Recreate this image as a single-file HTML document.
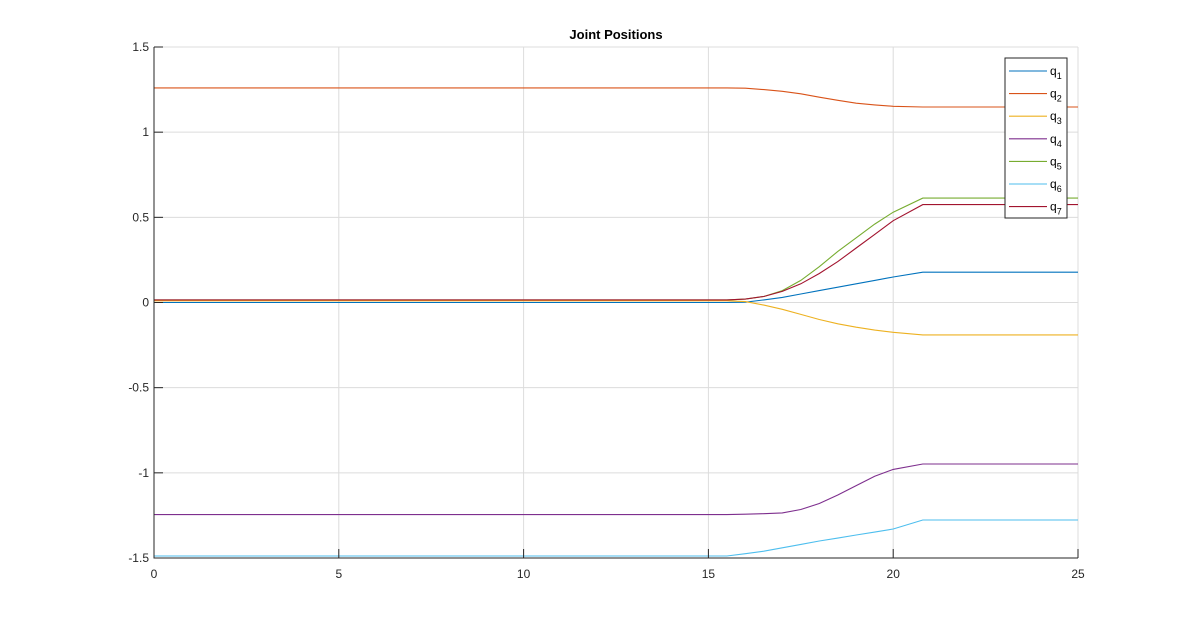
<!DOCTYPE html>
<html><head><meta charset="utf-8"><style>
body{margin:0;background:#fff;}
svg{display:block;font-family:"Liberation Sans",Arial,sans-serif;}
</style></head><body>
<svg id="chart" width="1192" height="628"></svg>
<script>
const times=[0,15,15.5,16,16.5,17,17.5,18,18.5,19,19.5,20,20.8,25];
const q1=[0,0,0,0.002,0.015,0.03,0.05,0.07,0.09,0.11,0.13,0.15,0.178,0.178];
const q2=[1.26,1.26,1.26,1.258,1.25,1.24,1.225,1.205,1.187,1.17,1.16,1.152,1.148,1.148];
const q3=[0.01,0.01,0.01,0.005,-0.015,-0.04,-0.07,-0.1,-0.125,-0.145,-0.162,-0.175,-0.19,-0.19];
const q4=[-1.245,-1.245,-1.245,-1.243,-1.24,-1.235,-1.215,-1.18,-1.13,-1.075,-1.02,-0.98,-0.948,-0.948];
const q5=[0.015,0.015,0.015,0.02,0.035,0.07,0.13,0.21,0.3,0.38,0.46,0.53,0.613,0.613];
const q6=[-1.488,-1.488,-1.488,-1.475,-1.46,-1.44,-1.42,-1.4,-1.383,-1.365,-1.348,-1.33,-1.277,-1.277];
const q7=[0.015,0.015,0.015,0.02,0.035,0.065,0.11,0.17,0.24,0.32,0.4,0.48,0.575,0.575];
const series=[q1,q2,q3,q4,q5,q6,q7];
const seriesNames=["q1","q2","q3","q4","q5","q6","q7"];
const colors=["#0072BD","#D95319","#EDB120","#7E2F8E","#77AC30","#4DBEEE","#A2142F"];
const xTicks=[0,5,10,15,20,25];
const yTicks=[-1.5,-1,-0.5,0,0.5,1,1.5];
const yTickLabels=["-1.5","-1","-0.5","0","0.5","1","1.5"];
const X0=154,X1=1078,Y0=558,Y1=47;
const xs=t=>X0+(t-0)/25*(X1-X0);
const ys=v=>Y0-(v+1.5)/3*(Y0-Y1);
const svg=document.getElementById('chart');
const NS="http://www.w3.org/2000/svg";
function mk(tag,attrs,parent){const e=document.createElementNS(NS,tag);for(const k in attrs)e.setAttribute(k,attrs[k]);(parent||svg).appendChild(e);return e;}
// grid
xTicks.forEach(t=>{const l=mk('line',{x1:xs(t),x2:xs(t),y1:Y1,y2:Y0,stroke:'#dcdcdc','stroke-width':1});

});
yTicks.forEach(v=>{const l=mk('line',{x1:X0,x2:X1,y1:ys(v),y2:ys(v),stroke:'#dcdcdc','stroke-width':1});

});
// series
series.forEach((s,i)=>{const d=s.map((v,j)=>(j?'L':'M')+xs(times[j]).toFixed(1)+','+ys(v).toFixed(1)).join('');
const p=mk('path',{d:d,fill:'none',stroke:colors[i],'stroke-width':1.1});

});
// axes
const ax=mk('path',{d:`M${X0},${Y1}L${X0},${Y0}L${X1},${Y0}`,fill:'none',stroke:'#262626','stroke-width':1});


xTicks.forEach((t,i)=>{mk('line',{x1:xs(t),x2:xs(t),y1:Y0,y2:Y0-9,stroke:'#262626'});
const tx=mk('text',{x:xs(t),y:Y0+20,'text-anchor':'middle','font-size':12,fill:'#262626'});tx.textContent=String(t);

});
yTicks.forEach((v,i)=>{mk('line',{x1:X0,x2:X0+9,y1:ys(v),y2:ys(v),stroke:'#262626'});
const tx=mk('text',{x:X0-5,y:ys(v)+4,'text-anchor':'end','font-size':12,fill:'#262626'});tx.textContent=yTickLabels[i];

});
const title=mk('text',{x:616,y:39,'text-anchor':'middle','font-size':13,'font-weight':'bold',fill:'#000'});title.textContent='Joint Positions';


// legend
const lg=mk('g',{});


mk('rect',{x:1005,y:58,width:62,height:160,fill:'#fff',stroke:'#262626','stroke-width':1},lg);
series.forEach((s,i)=>{const y=71+i*22.6;
const g=mk('g',{},lg);


mk('line',{x1:1009,x2:1047,y1:y,y2:y,stroke:colors[i],'stroke-width':1.1},g);
const t=mk('text',{x:1050,y:y+4,'font-size':12,fill:'#000'},g);
t.textContent='q';const sub=mk('tspan',{'font-size':9,dy:4},t);sub.textContent=String(i+1);});
</script>
</body></html>
